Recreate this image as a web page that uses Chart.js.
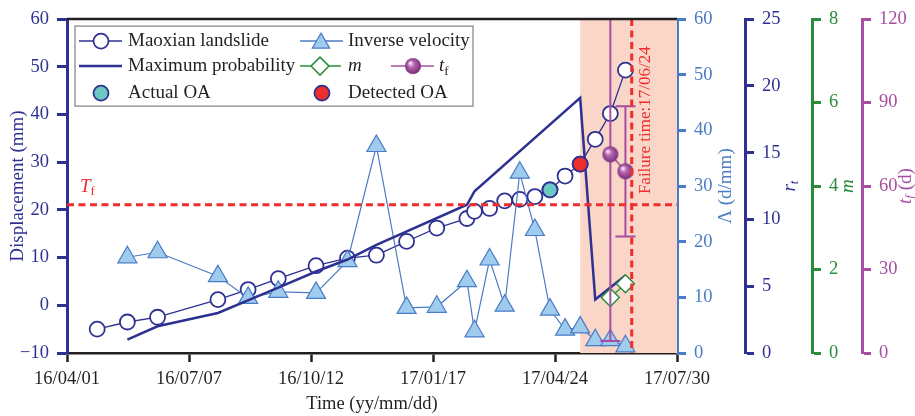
<!DOCTYPE html>
<html>
<head>
<meta charset="utf-8">
<script src="https://cdn.jsdelivr.net/npm/chart.js@4.4.1/dist/chart.umd.min.js"></script>
<style>
html, body { margin: 0; padding: 0; background: #fff; }
#wrap { width: 915px; height: 416px; }
</style>
</head>
<body>
<div id="wrap"><canvas id="myChart" width="915" height="416"></canvas></div>
<script>
// time is counted in days from 16/04/01
let xTickDays = [0, 97, 194, 291, 388, 485];
let xTickLabels = ['16/04/01', '16/07/07', '16/10/12', '17/01/17', '17/04/24', '17/07/30'];

let monitorDays = [24, 48, 72, 120, 144, 168, 198, 223, 246, 270, 294, 318, 324, 336, 348, 360, 372, 384, 396, 408, 420, 432, 444];
let displacement = [-5.0, -3.5, -2.5, 1.2, 3.3, 5.6, 8.3, 9.9, 10.5, 13.4, 16.2, 18.2, 19.7, 20.3, 21.9, 22.2, 22.8, 24.2, 27.1, 29.6, 34.8, 40.2, 49.3];

let velocityDays = [48, 72, 120, 144, 168, 198, 223, 246, 270, 294, 318, 324, 336, 348, 360, 372, 384, 396, 408, 420, 432, 444];
let inverseVelocity = [17.2, 18.1, 13.8, 9.9, 11.0, 10.8, 16.5, 37.2, 8.1, 8.3, 12.9, 3.9, 16.8, 8.5, 32.4, 22.1, 7.8, 4.2, 4.6, 2.3, 2.3, 1.2];

let probDays = [48, 72, 120, 168, 198, 223, 246, 318, 324, 408, 420, 444];
let maxProbability = [1.0, 2.0, 3.0, 4.9, 6.1, 7.0, 8.1, 11.1, 12.1, 19.1, 4.0, 5.8];

let mDays = [432, 444];
let mValues = [1.33, 1.66];

let tfDays = [432, 444];
let tfValues = [71.4, 65.3];
let tfLow = [4.3, 41.9];
let tfHigh = [130, 88.7];

let actualOADays = [384];
let actualOADisp = [24.2];
let detectedOADays = [408];
let detectedOADisp = [29.6];

let failureDay = 449;
let shadeStartDay = 408;
let thresholdTf = 21.1;

const NAVY = '#2e3192';
const BLUE = '#4a7bc6';
const LIGHTBLUE = '#9fcbec';
const GREEN = '#2b8c3c';
const PURPLE = '#a54ea2';
const RED = '#ee2d2d';
const TEAL = '#6cc8c2';
const BLACK = '#231f20';
const SERIF = 'Liberation Serif';

Chart.defaults.font.family = SERIF;

function toXY(xs, ys) {
    return xs.map((x, i) => ({ x: x, y: ys[i] }));
}

function makeBall(r) {
    const c = document.createElement('canvas');
    c.width = c.height = 2 * r + 2;
    const g = c.getContext('2d');
    const cx = r + 1;
    const grad = g.createRadialGradient(cx - r * 0.35, cx - r * 0.4, r * 0.1, cx, cx, r);
    grad.addColorStop(0, '#f6e0f4');
    grad.addColorStop(0.35, '#b566b1');
    grad.addColorStop(1, '#7a2f78');
    g.fillStyle = grad;
    g.beginPath();
    g.arc(cx, cx, r, 0, Math.PI * 2);
    g.fill();
    return c;
}
const BALL = makeBall(8);

// text with italic / subscript pieces, optionally rotated -90deg
function drawRich(ctx, parts, x, y, rotate, align) {
    ctx.save();
    ctx.translate(x, y);
    if (rotate) ctx.rotate(-Math.PI / 2);
    ctx.textBaseline = 'middle';
    ctx.textAlign = 'left';
    let total = 0;
    parts.forEach(p => { ctx.font = p.font; p.w = ctx.measureText(p.text).width; total += p.w; });
    let cx = align === 'left' ? 0 : -total / 2;
    parts.forEach(p => {
        ctx.font = p.font;
        ctx.fillStyle = p.color;
        ctx.fillText(p.text, cx, p.dy || 0);
        cx += p.w;
    });
    ctx.restore();
}

function tri(ctx, x, y, r) {
    ctx.beginPath();
    for (let k = 0; k < 3; k++) {
        const a = -Math.PI / 2 + k * 2 * Math.PI / 3;
        const px = x + Math.cos(a) * r, py = y + Math.sin(a) * r;
        if (k === 0) ctx.moveTo(px, py); else ctx.lineTo(px, py);
    }
    ctx.closePath();
}

const decorPlugin = {
    id: 'decor',
    beforeDatasetsDraw(chart) {
        const { ctx, chartArea: a, scales } = chart;
        const x0 = scales.x.getPixelForValue(shadeStartDay);
        ctx.save();
        ctx.fillStyle = '#fad6c8';
        ctx.fillRect(x0, a.top, a.right - x0, a.bottom - a.top);
        ctx.restore();
    },
    afterDatasetDraw(chart, args) {
        // error bars of t_f, drawn above the m diamonds and below the t_f balls
        if (chart.data.datasets[args.index].label !== 'm') return;
        const { ctx, chartArea: a, scales } = chart;
        ctx.save();
        ctx.beginPath();
        ctx.rect(a.left, a.top, a.right - a.left, a.bottom - a.top);
        ctx.clip();
        ctx.strokeStyle = PURPLE;
        ctx.lineWidth = 2;
        tfDays.forEach((d, i) => {
            const px = scales.x.getPixelForValue(d);
            const lo = scales.yT.getPixelForValue(tfLow[i]);
            const hi = scales.yT.getPixelForValue(tfHigh[i]);
            ctx.beginPath();
            ctx.moveTo(px, lo); ctx.lineTo(px, hi);
            ctx.moveTo(px - 10, lo); ctx.lineTo(px + 10, lo);
            ctx.moveTo(px - 10, hi); ctx.lineTo(px + 10, hi);
            ctx.stroke();
        });
        ctx.restore();
    },
    afterDatasetsDraw(chart) {
        const { ctx, chartArea: a, scales } = chart;
        ctx.save();
        ctx.strokeStyle = RED;
        ctx.lineWidth = 3;
        ctx.setLineDash([7, 4.5]);
        const ty = scales.y.getPixelForValue(thresholdTf);
        ctx.beginPath();
        ctx.moveTo(a.left, ty); ctx.lineTo(a.right, ty);
        ctx.stroke();
        const fx = scales.x.getPixelForValue(failureDay);
        ctx.beginPath();
        ctx.moveTo(fx, a.top); ctx.lineTo(fx, a.bottom);
        ctx.stroke();
        ctx.setLineDash([]);
        ctx.restore();

        drawRich(ctx, [
            { text: 'T', font: 'italic 19px ' + SERIF, color: RED },
            { text: 'f', font: '13px ' + SERIF, color: RED, dy: 5 }
        ], a.left + 13, ty - 18, false, 'left');
        drawRich(ctx, [{ text: 'Failure time:17/06/24', font: '17px ' + SERIF, color: RED }],
            fx + 14, a.top + 175, true, 'left');
    },
    afterDraw(chart) {
        const { ctx, chartArea: a, scales } = chart;
        // top frame line
        ctx.save();
        ctx.strokeStyle = BLACK;
        ctx.lineWidth = 2.5;
        ctx.beginPath();
        ctx.moveTo(a.left, a.top); ctx.lineTo(a.right, a.top);
        ctx.stroke();
        ctx.restore();

        // axis titles
        const midY = (a.top + a.bottom) / 2;
        const tf = '19px ' + SERIF, it = 'italic 19px ' + SERIF, sub = 'italic 13px ' + SERIF;
        drawRich(ctx, [{ text: 'Displacement (mm)', font: tf, color: NAVY }], 18, midY, true);
        drawRich(ctx, [{ text: '\u039B (d/mm)', font: tf, color: BLUE }], scales.yL.left + 49, midY, true);
        drawRich(ctx, [{ text: 'r', font: it, color: NAVY }, { text: 't', font: sub, color: NAVY, dy: 5 }], scales.yR.left + 45, midY, true);
        drawRich(ctx, [{ text: 'm', font: it, color: GREEN }], scales.yM.left + 36, midY, true);
        drawRich(ctx, [{ text: 't', font: it, color: PURPLE }, { text: 'f', font: sub, color: PURPLE, dy: 5 },
            { text: ' (d)', font: tf, color: PURPLE }], scales.yT.left + 44, midY, true);

        // legend box
        const L = a.left + 8, T = a.top + 7;
        ctx.save();
        ctx.fillStyle = '#fff';
        ctx.strokeStyle = '#8a8a8a';
        ctx.lineWidth = 1.3;
        ctx.fillRect(L, T, 398, 80);
        ctx.strokeRect(L, T, 398, 80);
        const r1 = T + 15, r2 = T + 40, r3 = T + 67;
        const line = (x1, x2, y, c, w) => {
            ctx.strokeStyle = c; ctx.lineWidth = w;
            ctx.beginPath(); ctx.moveTo(x1, y); ctx.lineTo(x2, y); ctx.stroke();
        };
        const circ = (x, y, fill) => {
            ctx.beginPath(); ctx.arc(x, y, 7.5, 0, Math.PI * 2);
            ctx.fillStyle = fill; ctx.fill();
            ctx.strokeStyle = NAVY; ctx.lineWidth = 1.8; ctx.stroke();
        };
        line(L + 4, L + 47, r1, NAVY, 1.5);
        circ(L + 26, r1, '#fff');
        line(L + 225, L + 268, r1, BLUE, 1.5);
        tri(ctx, L + 246, r1 + 2, 10);
        ctx.fillStyle = LIGHTBLUE; ctx.fill();
        ctx.strokeStyle = BLUE; ctx.lineWidth = 1.2; ctx.stroke();

        line(L + 4, L + 47, r2, NAVY, 2.5);
        line(L + 225, L + 266, r2, GREEN, 1.5);
        ctx.beginPath();
        ctx.moveTo(L + 236, r2); ctx.lineTo(L + 245, r2 - 9); ctx.lineTo(L + 254, r2); ctx.lineTo(L + 245, r2 + 9);
        ctx.closePath();
        ctx.fillStyle = '#fff'; ctx.fill();
        ctx.strokeStyle = GREEN; ctx.lineWidth = 1.5; ctx.stroke();
        line(L + 316, L + 359, r2, PURPLE, 1.5);
        ctx.drawImage(BALL, L + 338 - BALL.width / 2, r2 - BALL.height / 2);

        circ(L + 26, r3, TEAL);
        circ(L + 247, r3, RED);
        ctx.restore();

        const lf = '19px ' + SERIF;
        drawRich(ctx, [{ text: 'Maoxian landslide', font: lf, color: BLACK }], L + 53, r1, false, 'left');
        drawRich(ctx, [{ text: 'Inverse velocity', font: lf, color: BLACK }], L + 273, r1, false, 'left');
        drawRich(ctx, [{ text: 'Maximum probability', font: lf, color: BLACK }], L + 53, r2, false, 'left');
        drawRich(ctx, [{ text: 'm', font: 'italic 19px ' + SERIF, color: BLACK }], L + 273, r2, false, 'left');
        drawRich(ctx, [{ text: 't', font: 'italic 19px ' + SERIF, color: BLACK },
            { text: 'f', font: '13px ' + SERIF, color: BLACK, dy: 5 }], L + 364, r2, false, 'left');
        drawRich(ctx, [{ text: 'Actual OA', font: lf, color: BLACK }], L + 53, r3, false, 'left');
        drawRich(ctx, [{ text: 'Detected OA', font: lf, color: BLACK }], L + 273, r3, false, 'left');
    }
};

const tickFont = { family: SERIF, size: 18.5 };

function rightAxis(color, max, step, width) {
    return {
        position: 'right', min: 0, max: max,
        ticks: { stepSize: step, color: color, font: tickFont, padding: 8 },
        grid: { drawOnChartArea: false, tickLength: 9, tickWidth: 3, tickColor: color },
        border: { color: color, width: 3 },
        afterFit: (s) => { s.width = width; }
    };
}

let chartElement = document.getElementById('myChart').getContext('2d');

let myChart = new Chart(chartElement, {
    type: 'scatter',
    data: {
        datasets: [{
            label: 'Maximum probability',
            yAxisID: 'yR',
            data: toXY(probDays, maxProbability),
            showLine: true,
            borderColor: NAVY,
            borderWidth: 2.5,
            pointRadius: 0,
            order: 3
        }, {
            label: 'Maoxian landslide',
            yAxisID: 'y',
            data: toXY(monitorDays, displacement),
            showLine: true,
            borderColor: NAVY,
            borderWidth: 1.3,
            pointRadius: 7.5,
            pointBorderWidth: 1.8,
            pointBackgroundColor: '#fff',
            pointBorderColor: NAVY,
            order: 5
        }, {
            label: 'Inverse velocity',
            yAxisID: 'yL',
            data: toXY(velocityDays, inverseVelocity),
            showLine: true,
            borderColor: BLUE,
            borderWidth: 1.2,
            pointStyle: 'triangle',
            pointRadius: 11,
            pointBackgroundColor: LIGHTBLUE,
            pointBorderColor: BLUE,
            pointBorderWidth: 1.2,
            order: 4
        }, {
            label: 'Actual OA',
            yAxisID: 'y',
            data: toXY(actualOADays, actualOADisp),
            pointRadius: 7.5,
            pointBorderWidth: 1.8,
            pointBackgroundColor: TEAL,
            pointBorderColor: NAVY,
            order: 2
        }, {
            label: 'Detected OA',
            yAxisID: 'y',
            data: toXY(detectedOADays, detectedOADisp),
            pointRadius: 7.5,
            pointBorderWidth: 1.8,
            pointBackgroundColor: RED,
            pointBorderColor: NAVY,
            order: 2
        }, {
            label: 'm',
            yAxisID: 'yM',
            data: toXY(mDays, mValues),
            showLine: true,
            borderColor: GREEN,
            borderWidth: 1.3,
            pointStyle: 'rectRot',
            pointRadius: 9,
            pointBackgroundColor: '#fff',
            pointBorderColor: GREEN,
            pointBorderWidth: 1.5,
            order: 1
        }, {
            label: 'tf',
            yAxisID: 'yT',
            data: toXY(tfDays, tfValues),
            showLine: true,
            borderColor: PURPLE,
            borderWidth: 1.5,
            pointStyle: BALL,
            order: 0
        }]
    },
    options: {
        responsive: false,
        animation: false,
        layout: { padding: { top: 15, left: 0, right: 0, bottom: 0 } },
        plugins: { legend: { display: false }, tooltip: { enabled: false } },
        scales: {
            x: {
                type: 'linear', min: 0, max: 485,
                afterBuildTicks: (s) => { s.ticks = xTickDays.map(v => ({ value: v })); },
                ticks: {
                    callback: (v, i) => xTickLabels[i],
                    color: BLACK, font: tickFont, padding: 6,
                    maxRotation: 0, autoSkip: false
                },
                grid: { drawOnChartArea: false, tickLength: 9, tickWidth: 2.5, tickColor: BLACK },
                border: { color: BLACK, width: 2.5 },
                title: { display: true, text: 'Time (yy/mm/dd)', color: BLACK, font: { family: SERIF, size: 18.5 }, padding: { top: 0, bottom: 1 } },
                afterFit: (s) => { s.height = 63; }
            },
            y: {
                position: 'left', min: -10, max: 60,
                ticks: {
                    stepSize: 10, color: NAVY, font: tickFont, padding: 8,
                    callback: (v) => v < 0 ? '\u2212' + Math.abs(v) : v
                },
                grid: { drawOnChartArea: false, tickLength: 10, tickWidth: 3, tickColor: NAVY },
                border: { color: NAVY, width: 3 },
                afterFit: (s) => { s.width = 67; }
            },
            yL: rightAxis(BLUE, 60, 10, 68),
            yR: rightAxis(NAVY, 25, 5, 67),
            yM: rightAxis(GREEN, 8, 2, 50),
            yT: rightAxis(PURPLE, 120, 30, 53)
        }
    },
    plugins: [decorPlugin]
});
</script>
</body>
</html>
